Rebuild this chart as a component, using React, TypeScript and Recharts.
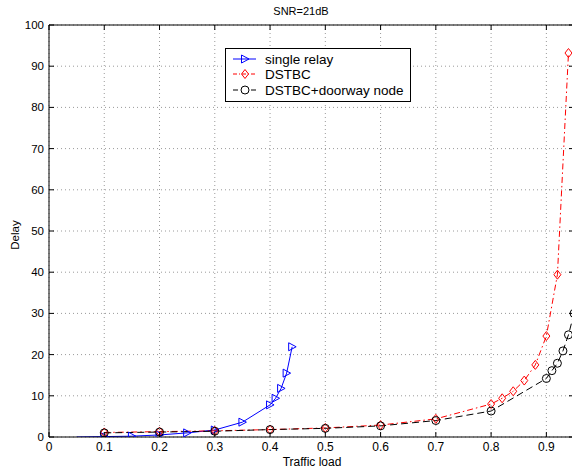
import { LineChart, Line, XAxis, YAxis, CartesianGrid, ReferenceLine } from "recharts";

const relayLoad = [0.05, 0.1, 0.15, 0.2, 0.25, 0.3, 0.35, 0.4, 0.41, 0.42, 0.43, 0.44];
const relayDelay = [0, 0.1, 0.2, 0.5, 1.0, 1.7, 3.6, 7.8, 9.4, 11.8, 15.5, 21.9];

const dstbcLoad = [0.1, 0.2, 0.3, 0.4, 0.5, 0.6, 0.7, 0.8, 0.82, 0.84, 0.86, 0.88, 0.9, 0.92, 0.94];
const dstbcDelay = [1.1, 1.3, 1.5, 1.8, 2.2, 2.9, 4.4, 8.0, 9.4, 11.1, 13.7, 17.5, 24.5, 39.4, 93.2];

const doorwayLoad = [0.1, 0.2, 0.3, 0.4, 0.5, 0.6, 0.7, 0.8, 0.9, 0.91, 0.92, 0.93, 0.94, 0.95];
const doorwayDelay = [1.0, 1.2, 1.4, 1.8, 2.1, 2.7, 4.0, 6.3, 14.2, 16.1, 17.9, 20.9, 24.8, 30.0];

const xTicks = [0, 0.1, 0.2, 0.3, 0.4, 0.5, 0.6, 0.7, 0.8, 0.9];
const yTicks = [0, 10, 20, 30, 40, 50, 60, 70, 80, 90, 100];

const FONT = '"Liberation Sans", Arial, Helvetica, sans-serif';
const PLOT_W = 525;
const PLOT_H = 412;

const toPoints = (load: number[], delay: number[]) =>
  load.map((x, i) => ({ x, y: delay[i] }));

function XTick({ x, y, payload }: any) {
  return (
    <g>
      <line x1={x} y1={y} x2={x} y2={y - 5} stroke="#000" />
      <line x1={x} y1={y - PLOT_H} x2={x} y2={y - PLOT_H + 5} stroke="#000" />
      <text x={x} y={y + 14} textAnchor="middle" fontSize={12} fontFamily={FONT} fill="#000">
        {payload.value}
      </text>
    </g>
  );
}

function YTick({ x, y, payload }: any) {
  return (
    <g>
      <line x1={x} y1={y} x2={x + 5} y2={y} stroke="#000" />
      <line x1={x + PLOT_W} y1={y} x2={x + PLOT_W - 5} y2={y} stroke="#000" />
      <text x={x - 5} y={y + 4} textAnchor="end" fontSize={11.5} fontFamily={FONT} fill="#000">
        {payload.value}
      </text>
    </g>
  );
}

function triangle(cx: number, cy: number) {
  return `${cx - 3.5},${cy - 4} ${cx - 3.5},${cy + 4} ${cx + 4},${cy}`;
}

function diamond(cx: number, cy: number) {
  return `${cx},${cy - 4.5} ${cx + 3.5},${cy} ${cx},${cy + 4.5} ${cx - 3.5},${cy}`;
}

const relayDot = (p: any) =>
  p.index === 0 ? (
    <g key={`b-${p.index}`} />
  ) : (
    <polygon key={`b-${p.index}`} points={triangle(p.cx, p.cy)} fill="none" stroke="#0000ff" />
  );

const dstbcDot = (p: any) => (
  <polygon key={`r-${p.index}`} points={diamond(p.cx, p.cy)} fill="none" stroke="#ff0000" />
);

const doorwayDot = (p: any) => (
  <circle key={`k-${p.index}`} cx={p.cx} cy={p.cy} r={4} fill="none" stroke="#000" />
);

function LegendBox() {
  return (
    <svg
      width={186}
      height={54}
      style={{ position: "absolute", left: 225, top: 48, fontFamily: FONT }}
    >
      <rect x={0.5} y={0.5} width={185} height={53} fill="#fff" stroke="#000" />
      <line x1={8} y1={11} x2={31} y2={11} stroke="#0000ff" />
      <polygon points={triangle(20, 11)} fill="none" stroke="#0000ff" />
      <text x={40} y={16} fontSize={13.5}>single relay</text>
      <line x1={8} y1={26} x2={31} y2={26} stroke="#ff0000" strokeDasharray="4 2 1 2" />
      <polygon points={diamond(20, 26)} fill="none" stroke="#ff0000" />
      <text x={40} y={31} fontSize={13.5}>DSTBC</text>
      <line x1={8} y1={42} x2={31} y2={42} stroke="#000" strokeDasharray="5 4" />
      <circle cx={20} cy={42} r={4} fill="#fff" stroke="#000" />
      <text x={40} y={47} fontSize={13.5}>DSTBC+doorway node</text>
    </svg>
  );
}

export default function App() {
  return (
    <div
      style={{
        position: "absolute",
        left: 0,
        top: 0,
        width: 572,
        height: 471,
        overflow: "hidden",
        background: "#fff",
      }}
    >
      <LineChart
        width={575}
        height={471}
        margin={{ top: 25, right: 1, bottom: 0, left: 0 }}
        style={{ fontFamily: FONT }}
      >
        <CartesianGrid stroke="#9a9a9a" strokeDasharray="1 3" />
        <XAxis
          type="number"
          dataKey="x"
          domain={[0, 0.95]}
          ticks={xTicks}
          height={34}
          tickSize={0}
          tickMargin={0}
          tickLine={false}
          axisLine={{ stroke: "#000" }}
          tick={<XTick />}
          allowDataOverflow
        />
        <YAxis
          type="number"
          dataKey="y"
          domain={[0, 100]}
          ticks={yTicks}
          width={49}
          tickSize={0}
          tickMargin={0}
          tickLine={false}
          axisLine={{ stroke: "#000" }}
          tick={<YTick />}
          allowDataOverflow
        />
        <ReferenceLine y={100} stroke="#000" />
        <ReferenceLine x={0.95} stroke="#000" />
        <Line
          data={toPoints(relayLoad, relayDelay)}
          dataKey="y"
          stroke="#0000ff"
          strokeWidth={1}
          dot={relayDot}
          isAnimationActive={false}
        />
        <Line
          data={toPoints(dstbcLoad, dstbcDelay)}
          dataKey="y"
          stroke="#ff0000"
          strokeWidth={1}
          strokeDasharray="6 3 1.5 3"
          dot={dstbcDot}
          isAnimationActive={false}
        />
        <Line
          data={toPoints(doorwayLoad, doorwayDelay)}
          dataKey="y"
          stroke="#000"
          strokeWidth={1}
          strokeDasharray="7 4"
          dot={doorwayDot}
          isAnimationActive={false}
        />
        <text x={301} y={15} textAnchor="middle" fontSize={11} fontFamily={FONT}>
          SNR=21dB
        </text>
        <text x={312} y={466} textAnchor="middle" fontSize={12} fontFamily={FONT}>
          Traffic load
        </text>
        <text
          x={19}
          y={235}
          textAnchor="middle"
          fontSize={11.5}
          fontFamily={FONT}
          transform="rotate(-90 19 235)"
        >
          Delay
        </text>
      </LineChart>
      <LegendBox />
    </div>
  );
}
